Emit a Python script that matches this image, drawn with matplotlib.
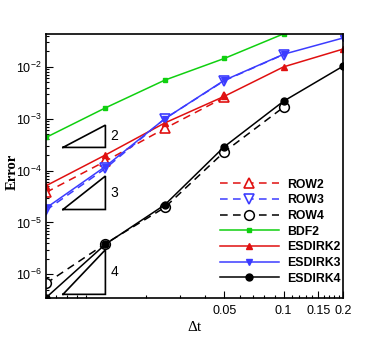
import numpy as np
import matplotlib
matplotlib.use("Agg")
import matplotlib.pyplot as plt
from matplotlib.ticker import FixedLocator, NullFormatter

plt.rcParams['mathtext.fontset'] = 'custom'
plt.rcParams['mathtext.rm'] = 'Liberation Sans'
plt.rcParams['mathtext.it'] = 'Liberation Sans:italic'
plt.rcParams['font.family'] = 'Liberation Sans'

dt_all = [0.00625, 0.0125, 0.025, 0.05, 0.1, 0.2]

row2 = [3.8e-5, 1.52e-4, 6.5e-4, 2.57e-3]
row3 = [1.72e-5, 1.1e-4, 1.0e-3, 5.4e-3, 1.73e-2]
row4 = [6.7e-7, 3.9e-6, 1.95e-5, 2.29e-4, 1.67e-3]
bdf2 = [4.36e-4, 1.62e-3, 5.55e-3, 1.45e-2, 4.33e-2]
esdirk2 = [5.1e-5, 2.0e-4, 8.3e-4, 2.7e-3, 1.0e-2, 2.2e-2]
esdirk3 = [1.9e-5, 1.2e-4, 1.0e-3, 5.5e-3, 1.75e-2, 3.6e-2]
esdirk4 = [3.55e-7, 3.8e-6, 2.19e-5, 2.88e-4, 2.18e-3, 1.03e-2]

x_ticks = [0.05, 0.1, 0.15, 0.2]
x_ticklabels = ['0.05', '0.1', '0.15', '0.2']
y_ticks = [1e-6, 1e-5, 1e-4, 1e-3, 1e-2]
y_ticklabels = [r'$10^{-6}$', r'$10^{-5}$', r'$10^{-4}$', r'$10^{-3}$', r'$10^{-2}$']

# slope triangles: (order, base y)
slopes = [(2, 2.8e-4), (3, 1.78e-5), (4, 4.12e-7)]
tri_x0, tri_x1 = 0.00762, 0.0125

RED = '#e01010'
BLUE = '#3c3cff'
GREEN = '#10d010'
BLACK = '#000000'

fig = plt.figure(figsize=(3.82, 3.39), dpi=100)
ax = fig.add_axes([46/382, 1-297.7/339, (343-46)/382, (297.7-34)/339])
ax.set_xscale('log')
ax.set_yscale('log')

lw = 1.1
dash = (0, (5, 3.5))
ax.plot(dt_all[:len(row2)], row2, color=RED, ls=dash, lw=lw, marker='^',
        ms=7, mfc='white', mec=RED, mew=1.2, label='ROW2')
ax.plot(dt_all[:len(row3)], row3, color=BLUE, ls=dash, lw=lw, marker='v',
        ms=7, mfc='white', mec=BLUE, mew=1.2, label='ROW3')
ax.plot(dt_all[:len(row4)], row4, color=BLACK, ls=dash, lw=lw, marker='o',
        ms=7, mfc='white', mec=BLACK, mew=1.1, label='ROW4')
ax.plot(dt_all[:len(bdf2)], bdf2, color=GREEN, ls='-', lw=lw, marker='s',
        ms=3.4, mfc=GREEN, mec=GREEN, label='BDF2')
ax.plot(dt_all, esdirk2, color=RED, ls='-', lw=lw, marker='^',
        ms=4.2, mfc=RED, mec=RED, label='ESDIRK2')
ax.plot(dt_all, esdirk3, color=BLUE, ls='-', lw=lw, marker='v',
        ms=4.2, mfc=BLUE, mec=BLUE, label='ESDIRK3')
ax.plot(dt_all, esdirk4, color=BLACK, ls='-', lw=lw, marker='o',
        ms=5, mfc=BLACK, mec=BLACK, label='ESDIRK4')

for order, yb in slopes:
    yt = yb * (tri_x1 / tri_x0) ** order
    ax.plot([tri_x0, tri_x1, tri_x1, tri_x0], [yb, yb, yt, yb], color='black',
            lw=1.2, solid_joinstyle='miter')
    ax.text(tri_x1 * 1.06, np.sqrt(yb * yt), str(order), fontsize=10,
            ha='left', va='center')

ax.set_xlim(0.00625, 0.2)
ax.set_ylim(3.55e-7, 4.3e-2)

ax.xaxis.set_major_locator(FixedLocator(x_ticks))
ax.xaxis.set_ticklabels(x_ticklabels)
minor_x = [0.007, 0.008, 0.009, 0.01, 0.02, 0.03, 0.04, 0.06, 0.07, 0.08, 0.09,
           0.11, 0.12, 0.13, 0.14, 0.16, 0.17, 0.18, 0.19]
ax.xaxis.set_minor_locator(FixedLocator(minor_x))
ax.xaxis.set_minor_formatter(NullFormatter())
ax.yaxis.set_major_locator(FixedLocator(y_ticks))
ax.yaxis.set_ticklabels(y_ticklabels)
ax.tick_params(which='both', direction='in', top=False, right=False, labelsize=9, width=0.8)
ax.tick_params(which='major', length=5)
ax.tick_params(which='minor', length=2.5)
ax.tick_params(axis='x', pad=5)
ax.tick_params(axis='y', pad=3)
for s in ax.spines.values():
    s.set_linewidth(1.2)

fig.text(12/382, 1 - 172/339, 'Error', rotation=90, ha='center', va='center',
         fontfamily='Liberation Serif', fontweight='bold', fontsize=10.5)
ax.set_xlabel('Δt', fontfamily='Liberation Serif', fontsize=11, labelpad=3)

leg = ax.legend(loc='lower right', bbox_to_anchor=(1.0, 0.04), frameon=False,
                prop={'weight': 'bold', 'size': 8.8, 'family': 'Liberation Sans'},
                handlelength=4.8, handletextpad=0.7, labelspacing=0.3,
                borderaxespad=0.0, borderpad=0.2)

fig.savefig('out.png', dpi=100)
